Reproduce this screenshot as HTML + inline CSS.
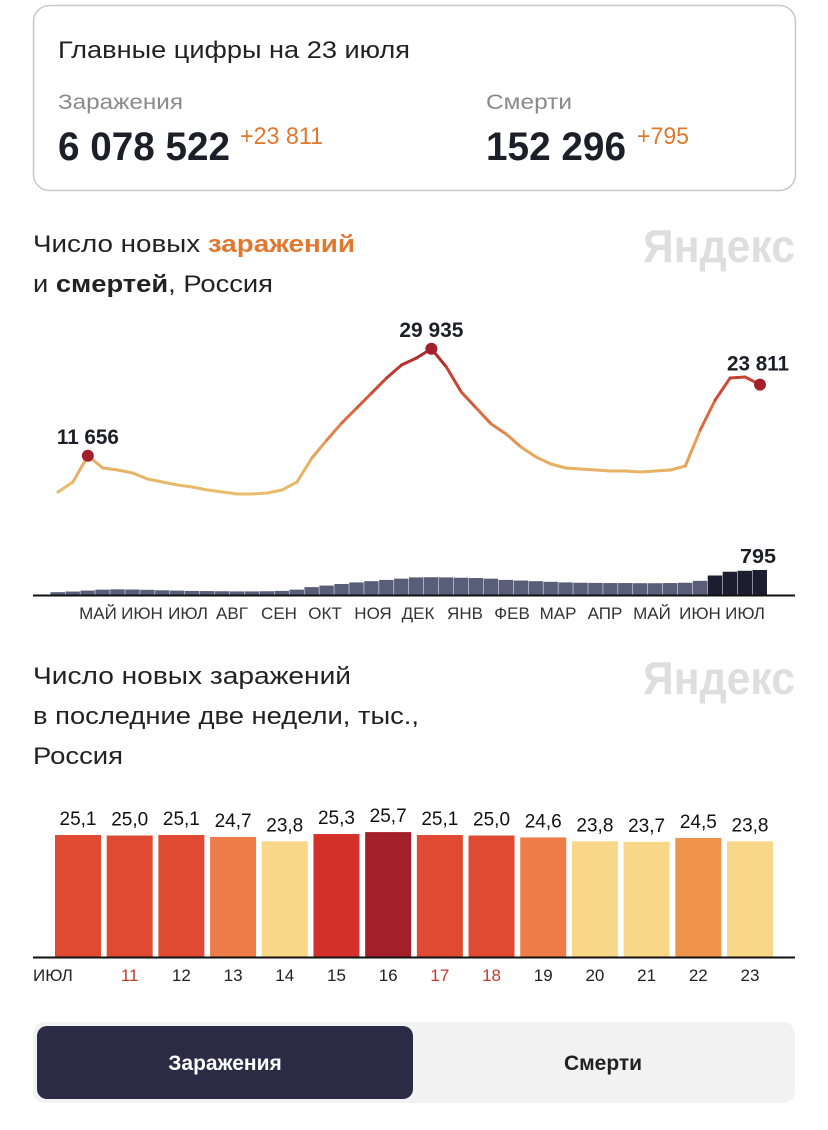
<!DOCTYPE html>
<html><head><meta charset="utf-8"><style>
html,body{margin:0;padding:0;background:#fff;}
svg{display:block;font-family:"Liberation Sans","DejaVu Sans",sans-serif;}
</style></head><body>
<svg id="root" width="828" height="1130" viewBox="0 0 828 1130">
  <g>
    <rect x="33.5" y="5.5" width="762" height="185" rx="16" fill="#fff" stroke="#c8c8c8" stroke-width="1.5"/>
    <text x="58" y="58" font-size="24" fill="#222" textLength="352" lengthAdjust="spacingAndGlyphs">Главные цифры на 23 июля</text>
    <text x="58" y="109" font-size="21" fill="#8a8a8a" textLength="125" lengthAdjust="spacingAndGlyphs">Заражения</text>
    <text x="58" y="160" font-size="40" font-weight="bold" fill="#1e1e28" textLength="172" lengthAdjust="spacingAndGlyphs">6 078 522</text>
    <text x="240" y="144" font-size="24" fill="#e0782f" textLength="83" lengthAdjust="spacingAndGlyphs">+23 811</text>
    <text x="486" y="109" font-size="21" fill="#8a8a8a" textLength="86" lengthAdjust="spacingAndGlyphs">Смерти</text>
    <text x="486" y="160" font-size="40" font-weight="bold" fill="#1e1e28" textLength="140" lengthAdjust="spacingAndGlyphs">152 296</text>
    <text x="637" y="144" font-size="24" fill="#e0782f" textLength="52" lengthAdjust="spacingAndGlyphs">+795</text>
  </g>

  <g>
    <text x="33" y="252" font-size="24" fill="#222" textLength="322" lengthAdjust="spacingAndGlyphs">Число новых <tspan font-weight="bold" fill="#e0782f">заражений</tspan></text>
    <text x="33" y="292" font-size="24" fill="#222" textLength="240" lengthAdjust="spacingAndGlyphs">и <tspan font-weight="bold">смертей</tspan>, Россия</text>
    <text x="795" y="262" font-size="46" font-weight="bold" fill="#dedede" text-anchor="end" textLength="152" lengthAdjust="spacingAndGlyphs">Яндекс</text>
  </g>

  <g id="line-chart"></g>
  <g id="death-bars"></g>
  <line x1="33" y1="595.5" x2="795" y2="595.5" stroke="#111" stroke-width="2"/>
  <g id="month-labels"></g>

  <g>
    <text x="33" y="684" font-size="24" fill="#222" textLength="318" lengthAdjust="spacingAndGlyphs">Число новых заражений</text>
    <text x="33" y="724" font-size="24" fill="#222" textLength="386" lengthAdjust="spacingAndGlyphs">в последние две недели, тыс.,</text>
    <text x="33" y="764" font-size="24" fill="#222" textLength="90" lengthAdjust="spacingAndGlyphs">Россия</text>
    <text x="795" y="694" font-size="46" font-weight="bold" fill="#dedede" text-anchor="end" textLength="152" lengthAdjust="spacingAndGlyphs">Яндекс</text>
  </g>

  <g id="day-bars"></g>
  <line x1="33" y1="957.5" x2="795" y2="957.5" stroke="#111" stroke-width="2"/>
  <text x="33" y="981" font-size="17" fill="#222">ИЮЛ</text>

  <g>
    <rect x="33" y="1022" width="762" height="81" rx="12" fill="#f2f2f2"/>
    <g>
      <rect x="37" y="1026" width="376" height="73" rx="10" fill="#2b2b45"/>
      <text x="225" y="1070" font-size="21" fill="#fff" text-anchor="middle" font-weight="bold">Заражения</text>
    </g>
    <g>
      <text x="603" y="1070" font-size="21" fill="#222" text-anchor="middle" font-weight="bold">Смерти</text>
    </g>
  </g>
</svg>
<script>
const NS="http://www.w3.org/2000/svg";
// Chart 1 data (approx every 10 days, Apr 2020 – Jul 23 2021)
const caseValues=[5466,7175,11656,9566,9224,8712,7687,7175,6662,6320,5808,5466,5125,5125,5296,5808,7175,11274,14349,17253,19816,22378,24940,27161,28357,29935,26819,22549,19816,17082,15374,13153,11445,10249,9566,9395,9224,9053,9053,8882,9053,9224,9908,16057,21182,24940,25111,23811];
const deathValues=[90,110,140,170,180,175,165,150,140,130,125,120,115,115,120,130,170,250,300,350,400,440,480,520,560,565,560,550,540,520,480,460,440,420,400,390,385,380,380,375,375,380,390,450,620,740,770,795];
const monthLabels=["МАЙ","ИЮН","ИЮЛ","АВГ","СЕН","ОКТ","НОЯ","ДЕК","ЯНВ","ФЕВ","МАР","АПР","МАЙ","ИЮН","ИЮЛ"];
const peakLabels=["11 656","29 935","23 811"];
const peakIdx=[2,25,47];
// Chart 2 data
const dayValues=[25.1,25.0,25.1,24.7,23.8,25.3,25.7,25.1,25.0,24.6,23.8,23.7,24.5,23.8];
const dayNames=["10","11","12","13","14","15","16","17","18","19","20","21","22","23"];
const weekendDays=["11","17","18"];

function mk(tag,attrs,parent){const e=document.createElementNS(NS,tag);for(const k in attrs)e.setAttribute(k,attrs[k]);parent.appendChild(e);return e;}

const x0=58,x1=760;
const xS=i=>x0+i*(x1-x0)/(caseValues.length-1);
const yC=v=>524-v*0.005854;
const yD=v=>595-v*(25/795);
function caseColor(v){
  const stops=[[5000,[232,190,110]],[12000,[230,170,95]],[18000,[222,110,65]],[24000,[200,70,50]],[30000,[170,40,40]]];
  for(let i=0;i<stops.length-1;i++){const a=stops[i],b=stops[i+1];if(v<=b[0]){const t=Math.max(0,(v-a[0])/(b[0]-a[0]));return "rgb("+a[1].map((c,j)=>Math.round(c+(b[1][j]-c)*t)).join(",")+")";}}
  return "rgb(170,40,40)";
}
const lc=document.getElementById("line-chart");
for(let i=0;i<caseValues.length-1;i++){
  const s=mk("line",{x1:xS(i),y1:yC(caseValues[i]),x2:xS(i+1),y2:yC(caseValues[i+1]),stroke:caseColor((caseValues[i]+caseValues[i+1])/2),"stroke-width":3,"stroke-linecap":"round"},lc);
  
  
}
peakIdx.forEach((pi,k)=>{
  const c=mk("circle",{cx:xS(pi),cy:yC(caseValues[pi]),r:6,fill:"#a3202a"},lc);
  
  
  const t=mk("text",{x:xS(pi)+(k==2?-2:0),y:yC(caseValues[pi])-(k==2?14:12),"font-size":21,"font-weight":"bold",fill:"#1e1e28","text-anchor":"middle","textLength":k==1?64:62,"lengthAdjust":"spacingAndGlyphs"},lc);
  t.textContent=peakLabels[k];
  
  
});
const db=document.getElementById("death-bars");
const bw=(x1-x0)/(deathValues.length-1);
deathValues.forEach((v,i)=>{
  const r=mk("rect",{x:xS(i)-bw/2,y:yD(v),width:bw-0.5,height:595-yD(v),fill:i>=44?"#1c1e30":"#595e78"},db);
  
  
});
const dl=mk("text",{x:758,y:yD(deathValues[deathValues.length-1])-7,"font-size":20,"font-weight":"bold",fill:"#1e1e28","text-anchor":"middle","textLength":36,"lengthAdjust":"spacingAndGlyphs"},db);
dl.textContent="795";


const ml=document.getElementById("month-labels");
const mx=[98,142,188,232,279,325,373,418,465,512,558,605,652,700,745];
monthLabels.forEach((m,i)=>{
  const t=mk("text",{x:mx[i],y:619,"font-size":17,fill:"#333","text-anchor":"middle"},ml);
  t.textContent=m;
  
  
});

const bx0=78,pitch=(750-78)/13,base=957,k=4.86;
function dayColor(v){if(v>=25.5)return"#a3202a";if(v>=25.2)return"#d3302a";if(v>=24.9)return"#e04a32";if(v>=24.6)return"#ee7c48";if(v>=24.3)return"#f0944c";return"#f8d888";}
const dbars=document.getElementById("day-bars");
dayValues.forEach((v,i)=>{
  const cx=bx0+i*pitch,h=v*k;
  const r=mk("rect",{x:cx-23,y:base-h,width:46,height:h,fill:dayColor(v)},dbars);
  
  
  const t=mk("text",{x:cx,y:base-h-10,"font-size":19,fill:"#111","text-anchor":"middle"},dbars);
  t.textContent=v.toFixed(1).replace(".",",");
  
  
  if(i>0){
    const d=dayNames[i];
    const l=mk("text",{x:cx,y:981,"font-size":17,fill:weekendDays.includes(d)?"#c0392b":"#222","text-anchor":"middle"},dbars);
    l.textContent=d;
    
    
  }
});
</script>
</body></html>
